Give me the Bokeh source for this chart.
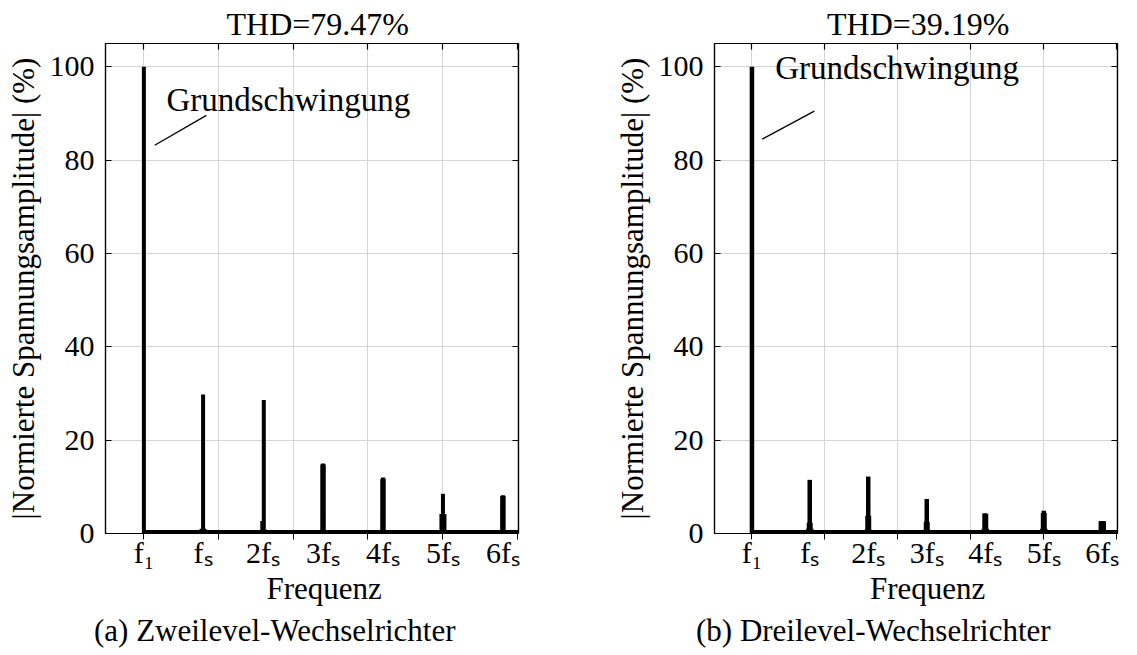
from bokeh.plotting import figure
from bokeh.layouts import row
from bokeh.models import Range1d, FixedTicker, LinearAxis, Label, Title
from bokeh.embed import file_html
from bokeh.resources import INLINE

FONT = "Liberation Serif"

# ---------------- data ----------------
# x positions in Hz (f1 = 50 Hz, fs = 4 kHz)
tick_pos = [50, 4000, 8000, 12000, 16000, 20000, 24000]
tick_labels = ["f\u2081", "f\u209b", "2f\u209b", "3f\u209b", "4f\u209b", "5f\u209b", "6f\u209b"]
grid_ticks = [0, 5000, 10000, 15000, 20000, 25000]
y_ticks = [0, 20, 40, 60, 80, 100]

# (a) Zweilevel: spectral lines (frequency, amplitude in %)
freq_a = [50,
          3900, 4000, 4100,
          7950, 8050, 8150,
          11950, 12000, 12050,
          15950, 16000, 16050,
          19900, 20000, 20100,
          23950, 24000, 24050]
amp_a = [100,
         1.0, 29.8, 1.0,
         2.7, 28.6, 0.8,
         14.8, 15.0, 14.8,
         11.7, 12.0, 11.8,
         4.2, 8.5, 4.2,
         8.0, 8.2, 8.0]

# (b) Dreilevel
freq_b = [50,
          3900, 3950, 4000, 4050, 4100,
          7900, 7950, 8000, 8050, 8100,
          11900, 11950, 12000, 12050, 12100,
          15900, 15950, 16000, 16050, 16100,
          19900, 19950, 20000, 20050, 20100,
          23900, 23950, 24000, 24050, 24100]
amp_b = [100,
         1.0, 2.3, 11.5, 2.3, 1.0,
         0.8, 3.8, 12.2, 3.8, 0.8,
         0.8, 2.5, 7.4, 2.5, 0.8,
         1.0, 4.3, 4.3, 4.2, 1.0,
         1.0, 4.4, 4.9, 4.4, 1.0,
         2.6, 2.7, 2.7, 2.7, 2.6]

noise_floor = 0.4
thd_a = "THD=79.47%"
thd_b = "THD=39.19%"
cap_a = "(a) Zweilevel-Wechselrichter"
cap_b = "(b) Dreilevel-Wechselrichter"
ylabel = "|Normierte Spannungsamplitude| (%)"
xlabel = "Frequenz"
annot = "Grundschwingung"

X0, X1 = -2510, 25040
Y0, Y1 = 0, 105


def make_panel(freq, amp, thd, cap, width, left, right, annot_xy, line_xy, spike_w, offs):
    p = figure(width=width, height=655, x_range=Range1d(X0, X1), y_range=Range1d(Y0, Y1),
               output_backend="svg", toolbar_location=None, title=thd,
               min_border_left=left, min_border_right=right,
               min_border_top=43, min_border_bottom=122)
    p.background_fill_color = "white"
    p.border_fill_color = "white"
    p.outline_line_color = "black"
    p.outline_line_width = 1.2

    p.title.align = "left"
    p.title.offset = offs[0]
    p.title.standoff = 3
    p.title.text_font = FONT
    p.title.text_font_size = "32px"
    p.title.text_font_style = "normal"
    p.title.text_color = "black"

    p.xgrid.ticker = FixedTicker(ticks=grid_ticks)
    p.ygrid.ticker = FixedTicker(ticks=y_ticks)
    for g in (p.xgrid, p.ygrid):
        g.grid_line_color = "#d4d4d4"
        g.grid_line_width = 1

    blank_x = {t: "" for t in grid_ticks}
    blank_y = {t: "" for t in y_ticks}
    p.xaxis.ticker = FixedTicker(ticks=grid_ticks)
    p.xaxis.major_label_overrides = blank_x
    p.xaxis.major_label_text_font_size = "0px"
    p.xaxis.major_label_standoff = 0
    p.yaxis.ticker = FixedTicker(ticks=y_ticks)
    p.yaxis.major_label_text_font = FONT
    p.yaxis.major_label_text_font_size = "30px"
    p.yaxis.major_label_text_color = "black"
    p.yaxis.major_label_standoff = 11
    p.yaxis.axis_label = ylabel
    p.yaxis.axis_label_text_font = FONT
    p.yaxis.axis_label_text_font_size = "31px"
    p.yaxis.axis_label_text_font_style = "normal"
    p.yaxis.axis_label_text_color = "black"
    p.yaxis.axis_label_standoff = 6

    top = LinearAxis(ticker=FixedTicker(ticks=grid_ticks), major_label_overrides=blank_x,
                     major_label_text_font_size="0px", major_label_standoff=0)
    rgt = LinearAxis(ticker=FixedTicker(ticks=y_ticks), major_label_overrides=blank_y,
                     major_label_text_font_size="0px", major_label_standoff=0)
    p.add_layout(top, "above")
    p.add_layout(rgt, "right")
    for ax in (p.xaxis[0], p.yaxis[0], top, rgt):
        ax.axis_line_color = "black"
        ax.axis_line_width = 1.2
        ax.major_tick_line_color = "black"
        ax.major_tick_line_width = 1.2
        ax.major_tick_in = 6
        ax.major_tick_out = 0
        ax.minor_tick_line_color = None

    # axis carrying the harmonic labels
    lab = LinearAxis(ticker=FixedTicker(ticks=tick_pos),
                     major_label_overrides=dict(zip(tick_pos, tick_labels)),
                     major_label_text_font=FONT, major_label_text_font_size="30px",
                     major_label_text_color="black", major_label_standoff=-4,
                     axis_line_color=None, major_tick_line_color=None,
                     minor_tick_line_color=None, major_tick_in=0, major_tick_out=0)
    p.add_layout(lab, "below")

    p.add_layout(Title(text=xlabel, align="left", offset=offs[1], standoff=-5,
                       text_font=FONT, text_font_size="31px", text_font_style="normal",
                       text_color="black"), "below")
    p.add_layout(Title(text=cap, align="left", offset=offs[2], standoff=15,
                       text_line_height=0.8,
                       text_font=FONT, text_font_size="31px", text_font_style="normal",
                       text_color="black"), "below")

    # spectrum
    p.segment(x0=[tick_pos[0]], y0=[noise_floor], x1=[X1], y1=[noise_floor],
              line_color="black", line_width=3.5)
    p.segment(x0=freq, y0=[0] * len(freq), x1=freq, y1=amp,
              line_color="black", line_width=spike_w)

    # annotation
    p.segment(x0=[line_xy[0]], y0=[line_xy[1]], x1=[line_xy[2]], y1=[line_xy[3]],
              line_color="black", line_width=1.3)
    p.add_layout(Label(x=annot_xy[0], y=annot_xy[1], text=annot, text_font=FONT,
                       text_font_size="33px", text_align="left",
                       text_baseline="alphabetic", text_color="black"))
    return p


pa = make_panel(freq_a, amp_a, thd_a, cap_a, 608, 105, 90,
                (1553, 92.8), (773, 83.2, 4220, 89.6), 4.0, (121, 161, -11.5))
pb = make_panel(freq_b, amp_b, thd_b, cap_b, 521, 106, 12,
                (1644, 99.7), (753, 84.5, 4315, 90.5), 4.5, (112.5, 155.5, -18.5))

layout = row(pa, pb)
open("out.html", "w").write(file_html(layout, INLINE))
